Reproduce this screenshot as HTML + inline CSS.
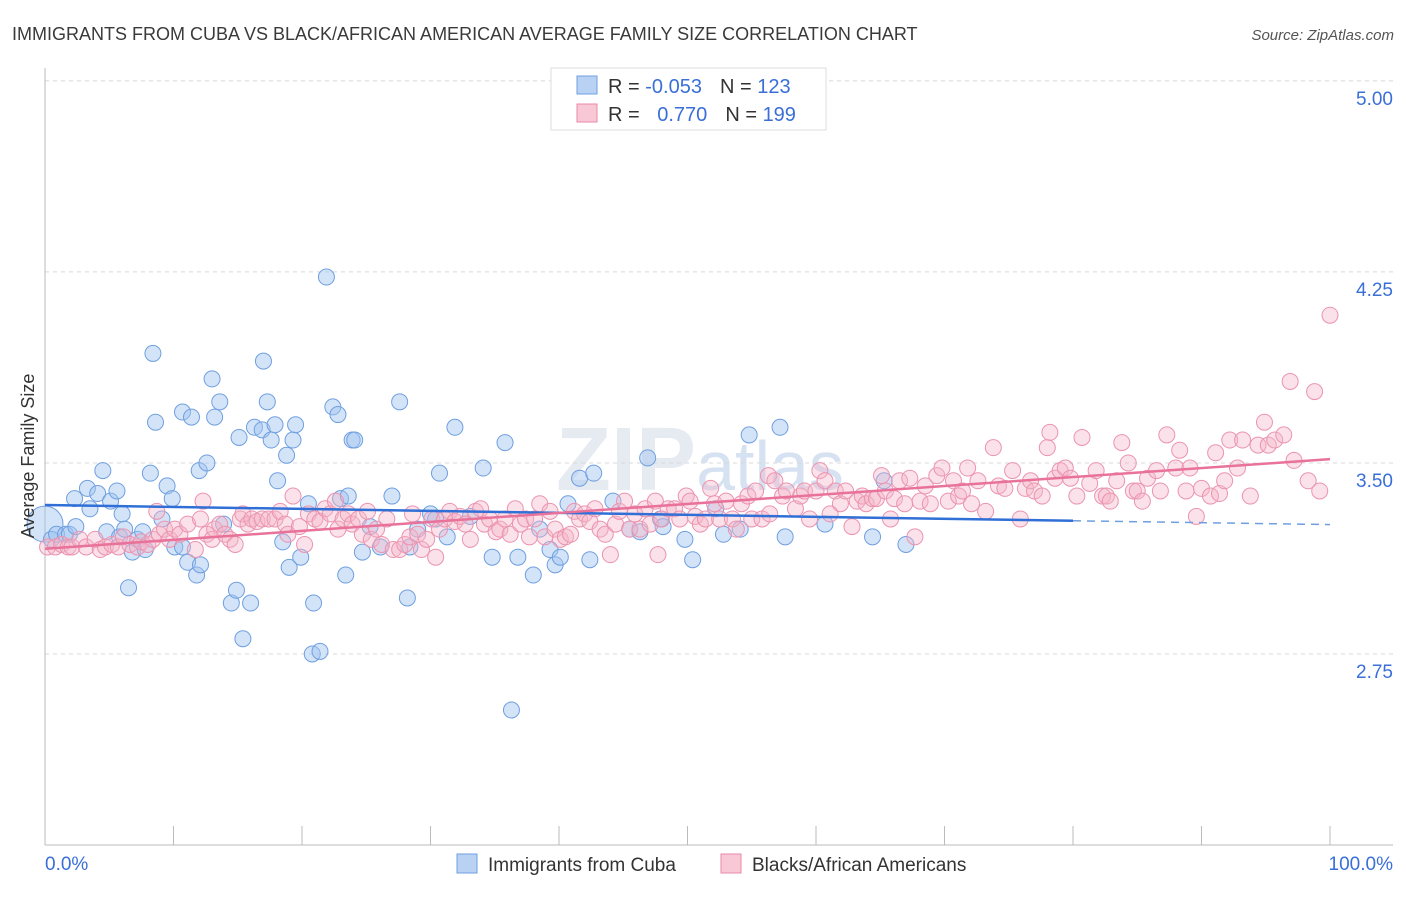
<!DOCTYPE html>
<html><head><meta charset="utf-8">
<style>
body{margin:0;background:#fff;font-family:"Liberation Sans",sans-serif;}
svg text{font-family:"Liberation Sans",sans-serif;}
</style></head>
<body>
<svg id="chart" width="1406" height="892" viewBox="0 0 1406 892" xmlns="http://www.w3.org/2000/svg">
<text x="12" y="40" font-size="18" fill="#3a3a3a">IMMIGRANTS FROM CUBA VS BLACK/AFRICAN AMERICAN AVERAGE FAMILY SIZE CORRELATION CHART</text>
<text x="1394" y="40" font-size="15" fill="#555" font-style="italic" text-anchor="end">Source: ZipAtlas.com</text>
<text x="700" y="490" font-size="90" fill="#e6ebf2" text-anchor="middle" font-weight="bold" font-family="Liberation Serif">ZIP<tspan font-family="Liberation Sans" font-weight="normal" font-size="70" fill="#d6e2f2">atlas</tspan></text>
<g id="grid"></g>
<g id="axes"></g>
<g id="points"></g>
<g id="trends"></g>
<text transform="translate(34,456) rotate(-90)" font-size="18" fill="#333" text-anchor="middle">Average Family Size</text>
<g>
<rect x="551" y="68" width="275" height="62" fill="#fff" stroke="#ddd"/>
<rect x="577" y="76" width="20" height="18" fill="#b9d2f3" stroke="#6f9fe0"/>
<rect x="577" y="104" width="20" height="18" fill="#f8c8d6" stroke="#e88aa8"/>
<text x="608" y="93" font-size="20" fill="#333">R = <tspan fill="#3a6fd8">-0.053</tspan><tspan dx="18">N = </tspan><tspan fill="#3a6fd8">123</tspan></text>
<text x="608" y="121" font-size="20" fill="#333">R = <tspan fill="#3a6fd8" dx="12">0.770</tspan><tspan dx="18">N = </tspan><tspan fill="#3a6fd8">199</tspan></text>
</g>
<g>
<rect x="457" y="854" width="20" height="19" fill="#b9d2f3" stroke="#6f9fe0"/>
<text x="488" y="871" font-size="19" fill="#333">Immigrants from Cuba</text>
<rect x="721" y="854" width="20" height="19" fill="#f8c8d6" stroke="#e88aa8"/>
<text x="752" y="871" font-size="19" fill="#333">Blacks/African Americans</text>
</g>
</svg>
<script>
const yTicks=[2.75,3.5,4.25,5.0];
const yTickLabels=["2.75","3.50","4.25","5.00"];
const xTickCount=10;
const xLabels=["0.0%","100.0%"];
const blueX=[0,0.5,0.9,1.6,1.9,2.3,2.4,3.3,3.5,4.1,4.5,4.8,5.1,5.6,5.8,6.0,6.2,6.5,6.8,7.2,7.6,7.8,8.2,8.4,8.6,9.1,9.5,9.9,10.1,10.7,10.7,11.1,11.4,11.8,12.0,12.1,12.6,13.0,13.2,13.6,13.9,14.5,14.9,15.1,15.4,16.0,16.3,16.9,17.0,17.3,17.6,17.9,18.1,18.5,18.8,19.0,19.3,19.5,19.9,20.5,20.9,20.8,21.4,21.9,22.4,22.8,23.0,23.4,23.6,23.9,24.1,24.7,25.3,26.1,27.0,27.6,28.2,28.4,29.0,30.0,30.4,30.7,31.3,31.9,33.1,34.1,34.8,35.8,36.3,36.8,38.0,38.5,39.3,39.7,40.1,40.7,41.6,42.4,42.7,44.2,45.5,46.3,46.9,47.9,48.1,49.8,50.4,52.2,52.8,54.1,54.8,57.2,57.6,60.7,64.4,65.3,67.0];
const blueY=[3.26,3.20,3.22,3.22,3.22,3.36,3.25,3.40,3.32,3.38,3.47,3.23,3.35,3.39,3.21,3.30,3.24,3.01,3.15,3.20,3.23,3.16,3.46,3.93,3.66,3.28,3.41,3.36,3.17,3.70,3.17,3.11,3.68,3.06,3.47,3.10,3.50,3.83,3.68,3.74,3.26,2.95,3.00,3.60,2.81,2.95,3.64,3.63,3.90,3.74,3.59,3.65,3.43,3.19,3.53,3.09,3.59,3.65,3.13,3.34,2.95,2.75,2.76,4.23,3.72,3.69,3.36,3.06,3.37,3.59,3.59,3.15,3.25,3.17,3.37,3.74,2.97,3.17,3.24,3.30,3.28,3.46,3.21,3.64,3.29,3.48,3.13,3.58,2.53,3.13,3.06,3.24,3.16,3.10,3.13,3.34,3.44,3.12,3.46,3.35,3.24,3.23,3.52,3.28,3.25,3.20,3.12,3.32,3.22,3.24,3.61,3.64,3.21,3.26,3.21,3.43,3.18];
const pinkX=[0.2,0.8,1.3,1.8,2.1,2.7,3.2,3.9,4.3,4.7,5.2,5.7,6.1,6.6,7.2,7.5,8.0,8.4,8.7,8.9,9.3,9.7,10.1,10.5,11.1,11.7,12.1,12.3,12.6,13.0,13.2,13.6,14.0,14.4,14.8,15.2,15.4,15.8,16.1,16.5,16.9,17.4,17.9,18.3,18.7,18.9,19.3,19.8,20.2,20.5,21.0,21.4,21.8,22.2,22.6,22.8,23.2,23.6,23.9,24.4,24.7,25.1,25.4,25.8,26.2,26.6,27.1,27.6,28.0,28.4,28.6,29.0,29.3,29.7,30.1,30.4,30.7,31.1,31.5,31.9,32.3,32.7,33.1,33.5,33.9,34.2,34.6,35.1,35.4,35.8,36.2,36.6,37.0,37.4,37.7,38.1,38.5,38.9,39.3,39.7,40.1,40.5,40.9,41.2,41.6,42.0,42.4,42.8,43.2,43.6,44.0,44.4,44.7,45.1,45.5,45.9,46.3,46.7,47.1,47.5,47.7,48.0,48.5,49.0,49.4,49.9,50.2,50.6,51.0,51.4,51.8,52.1,52.5,53.0,53.5,53.8,54.2,54.7,55.0,55.3,55.8,56.3,56.4,56.8,57.4,57.7,58.4,58.8,59.1,59.5,60.0,60.3,60.7,61.1,61.5,61.9,62.3,62.8,63.2,63.6,63.9,64.4,64.7,65.1,65.4,65.8,66.1,66.5,66.9,67.3,67.7,68.1,68.5,68.9,69.4,69.8,70.3,70.7,71.1,71.4,71.8,72.1,72.6,73.2,73.8,74.2,74.7,75.3,75.9,76.3,76.7,77.0,77.6,78.0,78.2,78.6,79.0,79.4,79.8,80.3,80.7,81.3,81.8,82.3,82.6,82.9,83.4,83.8,84.3,84.7,85.0,85.4,85.8,86.5,86.8,87.3,88.0,88.3,88.8,89.1,89.6,90.0,90.7,91.1,91.4,91.8,92.2,92.8,93.2,93.8,94.4,94.9,95.2,95.7,96.4,96.9,97.2,98.3,98.8,99.2,100];
const pinkY=[3.17,3.17,3.18,3.17,3.17,3.20,3.17,3.20,3.16,3.17,3.18,3.17,3.21,3.18,3.17,3.19,3.18,3.20,3.31,3.22,3.24,3.20,3.24,3.22,3.26,3.16,3.28,3.35,3.22,3.20,3.24,3.26,3.22,3.20,3.18,3.28,3.30,3.26,3.28,3.27,3.28,3.28,3.28,3.31,3.26,3.22,3.37,3.25,3.18,3.30,3.28,3.27,3.32,3.30,3.35,3.24,3.28,3.30,3.26,3.28,3.22,3.31,3.20,3.24,3.18,3.28,3.16,3.16,3.18,3.21,3.30,3.22,3.16,3.20,3.28,3.13,3.24,3.28,3.31,3.27,3.29,3.26,3.20,3.31,3.32,3.26,3.28,3.23,3.24,3.28,3.22,3.32,3.26,3.28,3.21,3.28,3.34,3.21,3.31,3.24,3.20,3.21,3.22,3.31,3.28,3.30,3.27,3.32,3.24,3.22,3.14,3.26,3.31,3.35,3.24,3.30,3.24,3.32,3.26,3.35,3.14,3.28,3.32,3.32,3.28,3.37,3.35,3.29,3.26,3.28,3.40,3.34,3.28,3.35,3.28,3.24,3.34,3.37,3.28,3.39,3.28,3.45,3.30,3.43,3.37,3.39,3.32,3.37,3.39,3.28,3.39,3.47,3.43,3.30,3.39,3.34,3.39,3.25,3.35,3.37,3.34,3.36,3.36,3.45,3.39,3.28,3.36,3.43,3.34,3.44,3.21,3.35,3.41,3.34,3.45,3.48,3.35,3.43,3.37,3.39,3.48,3.34,3.43,3.31,3.56,3.41,3.40,3.47,3.28,3.40,3.43,3.39,3.37,3.56,3.62,3.44,3.47,3.48,3.44,3.37,3.60,3.42,3.47,3.37,3.37,3.35,3.43,3.58,3.50,3.39,3.39,3.35,3.44,3.47,3.39,3.61,3.48,3.55,3.39,3.48,3.29,3.40,3.37,3.54,3.38,3.43,3.59,3.48,3.59,3.37,3.57,3.66,3.57,3.59,3.61,3.82,3.51,3.43,3.78,3.39,4.08];
const blueTrend=[3.335,3.273];
const blueTrendEnd=80;
const blueTrendExt=3.258;
const pinkTrend=[3.163,3.515];

const NS="http://www.w3.org/2000/svg";
const X0=45,X1=1330,YB=845;
function xs(p){return X0+(X1-X0)*p/100;}
function ys(v){return YB-(v-2)*254.7;}
function mk(tag,attrs,parent){const e=document.createElementNS(NS,tag);for(const k in attrs)e.setAttribute(k,attrs[k]);parent.appendChild(e);return e;}
const grid=document.getElementById('grid'),axes=document.getElementById('axes'),pts=document.getElementById('points'),tr=document.getElementById('trends');
yTicks.forEach((t,i)=>{
  const l=mk('line',{x1:X0,x2:1393,y1:ys(t),y2:ys(t),stroke:'#d8d8d8','stroke-dasharray':'4,4'},grid);
  
  
  const tx=mk('text',{x:1393,y:ys(t)+24,'font-size':19,fill:'#3a6fd8','text-anchor':'end'},axes);
  tx.textContent=yTickLabels[i];
  
  
});
const la=mk('line',{x1:X0,x2:X0,y1:68,y2:YB,stroke:'#bbb'},axes);


const lb=mk('line',{x1:X0,x2:1393,y1:YB,y2:YB,stroke:'#bbb'},axes);


for(let i=0;i<=xTickCount;i++){
  const t=mk('line',{x1:xs(i*10),x2:xs(i*10),y1:826,y2:YB,stroke:'#bbb'},axes);
  
  
}
const xl0=mk('text',{x:45,y:870,'font-size':19,fill:'#3a6fd8'},axes);xl0.textContent=xLabels[0];


const xl1=mk('text',{x:1393,y:870,'font-size':19,fill:'#3a6fd8','text-anchor':'end'},axes);xl1.textContent=xLabels[1];


blueX.forEach((x,i)=>{
  const c=mk('circle',{cx:xs(x),cy:ys(blueY[i]),r:i===0?18:8,fill:'rgba(160,195,240,0.45)',stroke:'#6f9fe0','stroke-width':1},pts);
  
  
});
pinkX.forEach((x,i)=>{
  const c=mk('circle',{cx:xs(x),cy:ys(pinkY[i]),r:8,fill:'rgba(244,180,200,0.4)',stroke:'#eb94b0','stroke-width':1},pts);
  
  
});
const bt=mk('line',{x1:xs(0),y1:ys(blueTrend[0]),x2:xs(blueTrendEnd),y2:ys(blueTrend[1]),stroke:'#2f6fd6','stroke-width':2.5},tr);


const be=mk('line',{x1:xs(blueTrendEnd),y1:ys(blueTrend[1]),x2:xs(100),y2:ys(blueTrendExt),stroke:'#6f9fe0','stroke-width':1.5,'stroke-dasharray':'8,6'},tr);


const pt=mk('line',{x1:xs(0),y1:ys(pinkTrend[0]),x2:xs(100),y2:ys(pinkTrend[1]),stroke:'#e8729a','stroke-width':2.5},tr);


</script>
</body></html>
